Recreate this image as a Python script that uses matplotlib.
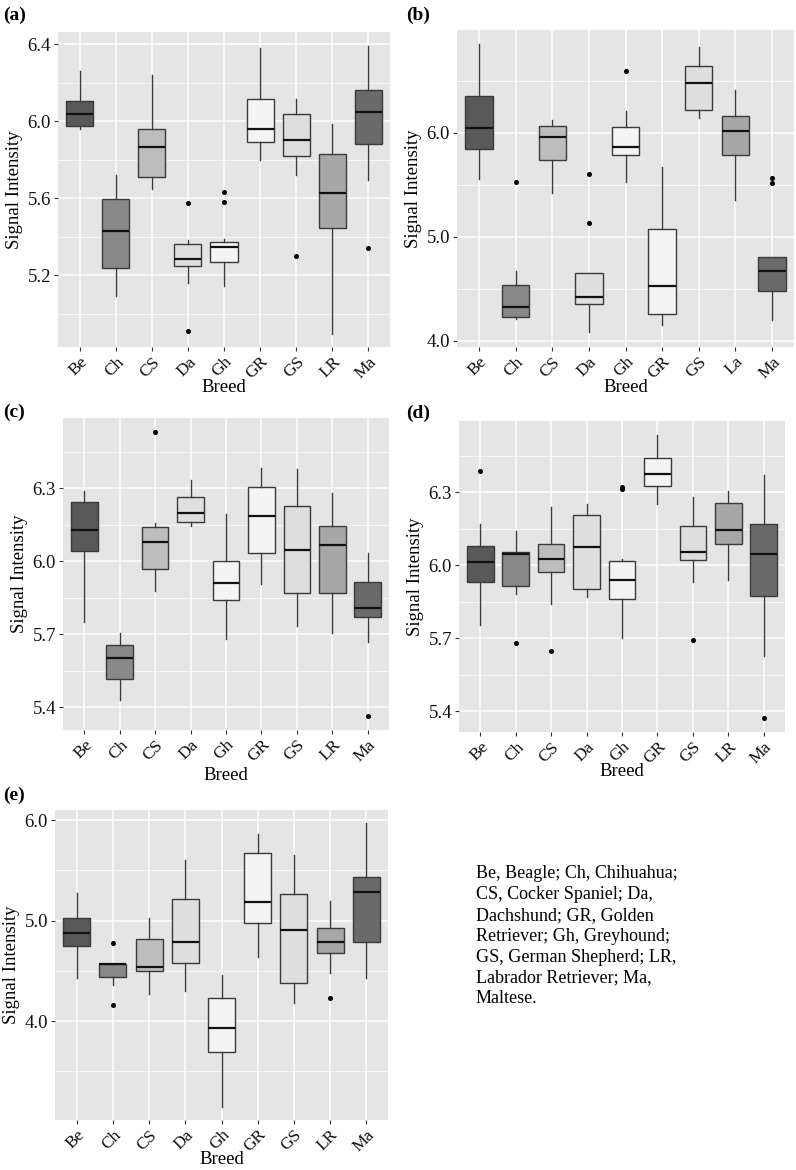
import matplotlib
matplotlib.use("Agg")
import matplotlib.pyplot as plt
import numpy as np

plt.rcParams['font.family'] = ['Liberation Serif', 'DejaVu Serif']

W, H = 796, 1170

# ---------------- data ----------------
breeds_std = ["Be", "Ch", "CS", "Da", "Gh", "GR", "GS", "LR", "Ma"]
breeds_b = ["Be", "Ch", "CS", "Da", "Gh", "GR", "GS", "La", "Ma"]
fills = ["#595959", "#888888", "#bdbdbd", "#dfdfdf", "#f4f4f4",
         "#f4f4f4", "#dedede", "#a7a7a7", "#6a6a6a"]

# each: [whislo, q1, med, q3, whishi]
a_stats = [[5.962, 5.976, 6.036, 6.104, 6.263],
           [5.092, 5.237, 5.430, 5.598, 5.718],
           [5.647, 5.710, 5.864, 5.962, 6.240],
           [5.157, 5.245, 5.283, 5.362, 5.383],
           [5.144, 5.266, 5.344, 5.374, 5.388],
           [5.797, 5.892, 5.962, 6.115, 6.379],
           [5.723, 5.821, 5.903, 6.040, 6.115],
           [4.892, 5.445, 5.626, 5.828, 5.984],
           [5.692, 5.880, 6.050, 6.165, 6.391]]
a_out = [[], [], [], [5.577, 4.910], [5.631, 5.579], [], [5.301], [], [5.341]]

b_stats = [[5.551, 5.843, 6.042, 6.356, 6.851],
           [4.212, 4.231, 4.321, 4.539, 4.671],
           [5.416, 5.743, 5.958, 6.067, 6.122],
           [4.083, 4.356, 4.424, 4.655, 4.655],
           [5.528, 5.782, 5.859, 6.058, 6.209],
           [4.154, 4.254, 4.530, 5.079, 5.673],
           [6.138, 6.218, 6.475, 6.645, 6.828],
           [5.358, 5.782, 6.013, 6.157, 6.411],
           [4.202, 4.478, 4.668, 4.806, 4.806]]
b_out = [[], [5.525], [], [5.602, 5.136], [6.591], [], [], [], [5.567, 5.515]]

c_stats = [[5.752, 6.040, 6.130, 6.245, 6.290],
           [5.430, 5.515, 5.603, 5.655, 5.704],
           [5.879, 5.967, 6.078, 6.142, 6.156],
           [6.145, 6.160, 6.197, 6.262, 6.334],
           [5.681, 5.840, 5.910, 6.000, 6.195],
           [5.907, 6.033, 6.184, 6.304, 6.381],
           [5.734, 5.871, 6.045, 6.227, 6.378],
           [5.707, 5.871, 6.067, 6.144, 6.279],
           [5.667, 5.773, 5.807, 5.914, 6.033]]
c_out = [[], [], [6.529], [], [], [], [], [], [5.366]]

d_stats = [[5.753, 5.929, 6.012, 6.078, 6.171],
           [5.881, 5.914, 6.045, 6.053, 6.140],
           [5.840, 5.970, 6.025, 6.089, 6.237],
           [5.868, 5.904, 6.075, 6.208, 6.253],
           [5.700, 5.863, 5.940, 6.019, 6.027],
           [6.253, 6.327, 6.373, 6.441, 6.534],
           [5.930, 6.022, 6.056, 6.160, 6.281],
           [5.941, 6.088, 6.144, 6.256, 6.303],
           [5.626, 5.873, 6.047, 6.171, 6.370]]
d_out = [[6.388], [5.682], [5.648], [], [6.322, 6.311], [], [5.693], [], [5.371]]

e_stats = [[4.431, 4.750, 4.872, 5.028, 5.270],
           [4.362, 4.441, 4.564, 4.564, 4.564],
           [4.269, 4.501, 4.541, 4.819, 5.022],
           [4.299, 4.574, 4.789, 5.211, 5.602],
           [3.148, 3.695, 3.927, 4.226, 4.458],
           [4.640, 4.978, 5.181, 5.672, 5.857],
           [4.182, 4.378, 4.902, 5.260, 5.648],
           [4.474, 4.680, 4.783, 4.929, 5.194],
           [4.425, 4.783, 5.280, 5.430, 5.967]]
e_out = [[], [4.776, 4.159], [], [], [], [], [], [4.232], []]

legend_lines = ["Be, Beagle; Ch, Chihuahua;",
                "CS, Cocker Spaniel; Da,",
                "Dachshund; GR, Golden",
                "Retriever; Gh, Greyhound;",
                "GS, German Shepherd; LR,",
                "Labrador Retriever; Ma,",
                "Maltese."]

panels = [
    dict(label="(a)", stats=a_stats, out=a_out, cats=breeds_std,
         box=(58, 390, 32, 347), ylim=(4.826, 6.464),
         major=[5.2, 5.6, 6.0, 6.4], minor=[5.0, 5.4, 5.8, 6.2],
         fmt="{:.1f}", lab=(3, 15), xlab_y=388),
    dict(label="(b)", stats=b_stats, out=b_out, cats=breeds_b,
         box=(457, 794, 30, 347), ylim=(3.939, 6.989),
         major=[4.0, 5.0, 6.0], minor=[4.5, 5.5, 6.5],
         fmt="{:.1f}", lab=(406, 15), xlab_y=388),
    dict(label="(c)", stats=c_stats, out=c_out, cats=breeds_std,
         box=(63, 389, 418, 730), ylim=(5.307, 6.588),
         major=[5.4, 5.7, 6.0, 6.3], minor=[5.55, 5.85, 6.15, 6.45],
         fmt="{:.1f}", lab=(3, 412), xlab_y=775),
    dict(label="(d)", stats=d_stats, out=d_out, cats=breeds_std,
         box=(459, 785, 421, 732), ylim=(5.315, 6.592),
         major=[5.4, 5.7, 6.0, 6.3], minor=[5.55, 5.85, 6.15, 6.45],
         fmt="{:.1f}", lab=(406, 413), xlab_y=771),
    dict(label="(e)", stats=e_stats, out=e_out, cats=breeds_std,
         box=(55, 388, 810, 1120), ylim=(3.015, 6.1),
         major=[4.0, 5.0, 6.0], minor=[3.5, 4.5, 5.5],
         fmt="{:.1f}", lab=(3, 795), xlab_y=1159),
]

fig = plt.figure(figsize=(W / 100, H / 100), dpi=100)
fig.patch.set_facecolor("white")

for p in panels:
    l, r, t, b = p["box"]
    ax = fig.add_axes([l / W, 1 - b / H, (r - l) / W, (b - t) / H])
    ax.set_facecolor("#e5e5e5")
    for s in ax.spines.values():
        s.set_visible(False)
    bstats = []
    for name, st, o in zip(p["cats"], p["stats"], p["out"]):
        bstats.append(dict(label=name, whislo=st[0], q1=st[1], med=st[2],
                           q3=st[3], whishi=st[4], fliers=o))
    pos = np.arange(1, len(bstats) + 1)
    res = ax.bxp(bstats, positions=pos, widths=0.75, patch_artist=True,
                 showcaps=False, manage_ticks=False,
                 boxprops=dict(edgecolor="#3a3a3a", linewidth=1.0),
                 whiskerprops=dict(color="#3a3a3a", linewidth=1.0),
                 medianprops=dict(color="#111111", linewidth=1.6),
                 flierprops=dict(marker="o", markersize=2.6,
                                 markerfacecolor="black",
                                 markeredgecolor="black"))
    for patch, fc in zip(res["boxes"], fills):
        patch.set_facecolor(fc)
        patch.set_zorder(3)
    for ln in res["medians"] + res["whiskers"] + res["fliers"]:
        ln.set_zorder(4)
    ax.set_xlim(0.4, len(bstats) + 0.6)
    ax.set_ylim(*p["ylim"])
    ax.set_xticks(pos)
    ax.set_xticklabels(p["cats"], rotation=45, ha="right",
                       rotation_mode="anchor", fontsize=12.5)
    ax.set_yticks(p["major"])
    ax.set_yticklabels([p["fmt"].format(v) for v in p["major"]], fontsize=13.5)
    ax.set_yticks(p["minor"], minor=True)
    ax.tick_params(axis="both", which="major", length=3, width=0.8,
                   color="#333333", labelcolor="#111111", pad=2)
    ax.tick_params(axis="y", which="minor", length=0)
    ax.grid(True, which="major", color="white", linewidth=1.1, zorder=0)
    ax.grid(True, which="minor", axis="y", color="white", linewidth=0.5,
            zorder=0)
    ax.set_axisbelow(True)
    ax.set_ylabel("Signal Intensity", fontsize=13.5, labelpad=3)
    # x axis title
    fig.text((l + r) / 2 / W, 1 - p["xlab_y"] / H, "Breed",
             fontsize=13.5, ha="center", va="center")
    fig.text(p["lab"][0] / W, 1 - p["lab"][1] / H, p["label"],
             fontsize=14, fontweight="bold", ha="left", va="center")

fig.text(476 / W, 1 - 865 / H, "\n".join(legend_lines), fontsize=13,
         ha="left", va="top", linespacing=1.3)
fig.savefig("out.png", dpi=100)
